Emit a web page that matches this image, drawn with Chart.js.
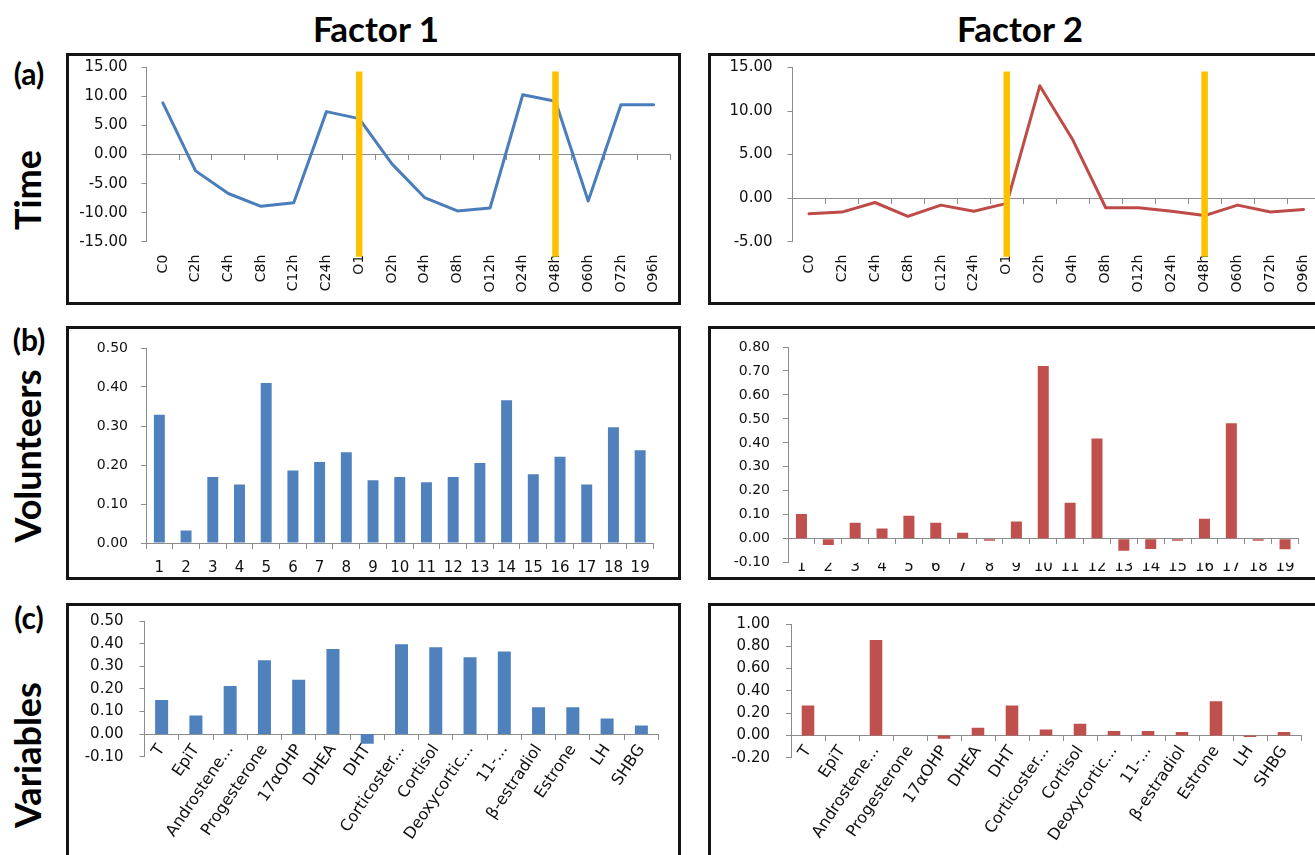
<!DOCTYPE html>
<html>
<head>
<meta charset="utf-8">
<script src="https://cdn.jsdelivr.net/npm/chart.js@4.4.1/dist/chart.umd.min.js"></script>
<style>
  html, body { margin: 0; padding: 0; background: #fff; }
  body { width: 1315px; height: 855px; overflow: hidden; position: relative; font-family: Lato, 'Open Sans', sans-serif; color: #000; }
  .box { position: absolute; border: 3px solid #141414; box-sizing: border-box; }
  .wrap { position: absolute; }
  .title { position: absolute; font-weight: 700; font-size: 35px; line-height: 1; white-space: nowrap; transform: translate(-50%, -50%); }
  .tag { position: absolute; font-weight: 700; font-size: 30px; line-height: 1; white-space: nowrap; transform: translate(-50%, -50%); }
  .row { position: absolute; font-weight: 700; font-size: 36px; line-height: 1; white-space: nowrap; transform: translate(-50%, -50%) rotate(-90deg); }
</style>
</head>
<body>
<div class="title" style="left:376px; top:28px;">Factor 1</div>
<div class="title" style="left:1020px; top:28px;">Factor 2</div>
<div class="tag" style="left:29px; top:73px;">(a)</div>
<div class="tag" style="left:29px; top:339px;">(b)</div>
<div class="tag" style="left:29px; top:617px;">(c)</div>
<div class="row" style="left:27px; top:190px;">Time</div>
<div class="row" style="left:27px; top:456px;">Volunteers</div>
<div class="row" style="left:27px; top:755px;">Variables</div>
<div id="stage"></div>

<script>
// ---- data -------------------------------------------------------------
const timeLabels = ['C0', 'C2h', 'C4h', 'C8h', 'C12h', 'C24h', 'O1', 'O2h', 'O4h', 'O8h', 'O12h', 'O24h', 'O48h', 'O60h', 'O72h', 'O96h'];
const timeFactor1 = [8.9, -2.8, -6.7, -8.9, -8.3, 7.4, 6.2, -1.6, -7.4, -9.7, -9.2, 10.3, 9.2, -8.0, 8.6, 8.6];
const timeFactor2 = [-1.8, -1.6, -0.5, -2.1, -0.8, -1.5, -0.6, 12.9, 6.7, -1.1, -1.1, -1.5, -2.0, -0.8, -1.6, -1.3];
const markerTimes = ['O1', 'O48h'];

const volunteerLabels = ['1', '2', '3', '4', '5', '6', '7', '8', '9', '10', '11', '12', '13', '14', '15', '16', '17', '18', '19'];
const volunteersFactor1 = [0.329, 0.032, 0.169, 0.150, 0.410, 0.186, 0.208, 0.233, 0.161, 0.169, 0.156, 0.169, 0.205, 0.366, 0.176, 0.221, 0.150, 0.297, 0.238];
const volunteersFactor2 = [0.103, -0.026, 0.067, 0.043, 0.096, 0.067, 0.025, -0.008, 0.072, 0.721, 0.150, 0.418, -0.050, -0.043, -0.008, 0.083, 0.482, -0.008, -0.044];

const variableLabels = ['T', 'EpiT', 'Androstene...', 'Progesterone', '17\u03b1OHP', 'DHEA', 'DHT', 'Corticoster...', 'Cortisol', 'Deoxycortic...', '11-...', '\u03b2-estradiol', 'Estrone', 'LH', 'SHBG'];
const variablesFactor1 = [0.151, 0.082, 0.213, 0.326, 0.240, 0.376, -0.043, 0.397, 0.384, 0.340, 0.365, 0.119, 0.119, 0.069, 0.038];
const variablesFactor2 = [0.268, 0, 0.857, 0, -0.030, 0.068, 0.268, 0.054, 0.104, 0.039, 0.039, 0.030, 0.307, -0.015, 0.030];

// axis ranges [min, max, step]
const timeRange1 = [-15, 15, 5];
const timeRange2 = [-5, 15, 5];
const volRange1 = [0, 0.5, 0.1];
const volRange2 = [-0.1, 0.8, 0.1];
const varRange1 = [-0.1, 0.5, 0.1];
const varRange2 = [-0.2, 1.0, 0.2];

// ---- styling ----------------------------------------------------------
const BLUE_LINE = '#4A7EBB', RED_LINE = '#BE4B48';
const BLUE_BAR = '#4F81BD', RED_BAR = '#C0504D';
const GOLD = '#FFC000', AXIS = '#8c8c8c', TEXT = '#111';
const TICK_FONT = "'DejaVu Sans', Verdana, sans-serif";

// panel geometry in page pixels: box = [left, top, width, height], plot = [left, top, right, bottom]
const panels = [
  { kind: 'line', labels: timeLabels, values: timeFactor1, color: BLUE_LINE, range: timeRange1, markers: markerTimes,
    box: [66, 53, 615, 252], plot: [146.5, 67.5, 670, 241.7], yFont: 15, yPad: 14, xFont: 14, xRot: 90, xPad: 13, zeroLabels: false },
  { kind: 'line', labels: timeLabels, values: timeFactor2, color: RED_LINE, range: timeRange2, markers: markerTimes,
    box: [708, 53, 660, 252], plot: [792.5, 67.5, 1320, 241.7], yFont: 15, yPad: 15, xFont: 14, xRot: 90, xPad: 13, zeroLabels: false },
  { kind: 'bar', labels: volunteerLabels, values: volunteersFactor1, color: BLUE_BAR, range: volRange1, barPct: 0.41,
    box: [66, 326, 615, 254], plot: [146, 348, 653.5, 543], yFont: 14, yPad: 13, xFont: 15, xRot: 0, xPad: 16, zeroLabels: false },
  { kind: 'bar', labels: volunteerLabels, values: volunteersFactor2, color: RED_BAR, range: volRange2, barPct: 0.41,
    box: [708, 326, 660, 254], plot: [788, 347, 1298.5, 562.7], yFont: 14, yPad: 13, xFont: 15, xRot: 0, xPad: -5, zeroLabels: false },
  { kind: 'bar', labels: variableLabels, values: variablesFactor1, color: BLUE_BAR, range: varRange1, barPct: 0.38,
    box: [66, 603, 615, 300], plot: [144.5, 621, 658.5, 756.7], yFont: 15, yPad: 16, xFont: 16, xRot: 56, xPad: 2, zeroLabels: true },
  { kind: 'bar', labels: variableLabels, values: variablesFactor2, color: RED_BAR, range: varRange2, barPct: 0.37,
    box: [708, 603, 660, 300], plot: [791, 624, 1301, 757.7], yFont: 15, yPad: 16, xFont: 16, xRot: 56, xPad: 2, zeroLabels: true }
];

// vertical phase markers drawn over the series at the given categories
const phaseMarkers = {
  id: 'phaseMarkers',
  afterDatasetsDraw(chart, args, opts) {
    if (!opts || !opts.labels || !opts.labels.length) return;
    const { ctx, chartArea } = chart;
    const xs = chart.scales.x;
    ctx.save();
    ctx.strokeStyle = opts.color;
    ctx.lineWidth = opts.width;
    ctx.lineCap = 'butt';
    opts.labels.forEach(lbl => {
      const i = chart.data.labels.indexOf(lbl);
      if (i < 0) return;
      const x = xs.getPixelForValue(i);
      ctx.beginPath();
      ctx.moveTo(x, chartArea.top + opts.inset);
      ctx.lineTo(x, chartArea.bottom + opts.below);
      ctx.stroke();
    });
    ctx.restore();
  }
};

// keep axis label overhang from shrinking the plot area
const noOverhang = s => { s.paddingTop = 0; s.paddingBottom = 0; s.paddingLeft = 0; s.paddingRight = 0; };

const stage = document.getElementById('stage');

panels.forEach(p => {
  const [bl, bt, bw, bh] = p.box;
  const B = 3;
  const wrap = { left: bl + B, top: bt + B, width: bw - 2 * B, height: bh - 2 * B };
  const [pl, pt, pr, pb] = p.plot;
  const yWidth = pl - wrap.left;
  const padTop = pt - wrap.top;
  const padRight = wrap.left + wrap.width - pr;
  const below = wrap.top + wrap.height - pb;

  const w = document.createElement('div');
  w.className = 'wrap';
  Object.assign(w.style, { left: wrap.left + 'px', top: wrap.top + 'px', width: wrap.width + 'px', height: wrap.height + 'px' });
  const cv = document.createElement('canvas');
  w.appendChild(cv);
  stage.appendChild(w);

  const box = document.createElement('div');
  box.className = 'box';
  Object.assign(box.style, { left: bl + 'px', top: bt + 'px', width: bw + 'px', height: bh + 'px' });
  stage.appendChild(box);

  const [yMin, yMax, yStep] = p.range;
  const tickLabelFont = size => ({ family: TICK_FONT, size: size });

  const scales = {
    y: {
      min: yMin, max: yMax,
      afterFit: s => { s.width = yWidth; noOverhang(s); },
      border: { display: true, color: AXIS, width: 1 },
      grid: { display: true, drawOnChartArea: false, drawTicks: true, tickLength: 5, color: AXIS },
      ticks: { stepSize: yStep, padding: p.yPad, color: TEXT, font: tickLabelFont(p.yFont),
               callback: v => (Math.abs(v) < 1e-9 ? 0 : v).toFixed(2) }
    }
  };
  const zeroAxisGrid = { display: true, drawOnChartArea: false, drawTicks: true, tickLength: 5, color: AXIS, offset: true };
  if (p.zeroLabels) {
    scales.x = {
      type: 'category', position: { y: 0 }, offset: true,
      afterFit: noOverhang,
      border: { display: true, color: AXIS, width: 1 },
      grid: zeroAxisGrid,
      ticks: { autoSkip: false, minRotation: p.xRot, maxRotation: p.xRot, padding: p.xPad, color: TEXT, font: tickLabelFont(p.xFont) }
    };
  } else {
    scales.x = {
      type: 'category', position: 'bottom', offset: true,
      afterFit: s => { s.height = below; noOverhang(s); },
      border: { display: false },
      grid: { display: false, drawTicks: false },
      ticks: { autoSkip: false, minRotation: p.xRot, maxRotation: p.xRot, padding: p.xPad, color: TEXT, font: tickLabelFont(p.xFont) }
    };
    scales.x0 = {
      type: 'category', position: { y: 0 }, offset: true,
      afterFit: noOverhang,
      border: { display: true, color: AXIS, width: 1 },
      grid: zeroAxisGrid,
      ticks: { display: false }
    };
  }

  const dataset = p.kind === 'line'
    ? { data: p.values, borderColor: p.color, borderWidth: 3, pointRadius: 0, tension: 0,
        borderJoinStyle: 'round', borderCapStyle: 'round', fill: false }
    : { data: p.values, backgroundColor: p.color, borderWidth: 0, barPercentage: p.barPct, categoryPercentage: 1 };

  new Chart(cv, {
    type: p.kind,
    data: { labels: p.labels, datasets: [dataset] },
    options: {
      responsive: true, maintainAspectRatio: false, animation: false,
      layout: { padding: { left: 0, top: padTop, right: padRight, bottom: p.zeroLabels ? below : 0 } },
      plugins: {
        legend: { display: false }, tooltip: { enabled: false },
        phaseMarkers: { labels: p.markers || [], color: GOLD, width: 6.5, inset: 4, below: 15 }
      },
      scales: scales
    },
    plugins: [phaseMarkers]
  });
});
</script>
</body>
</html>
